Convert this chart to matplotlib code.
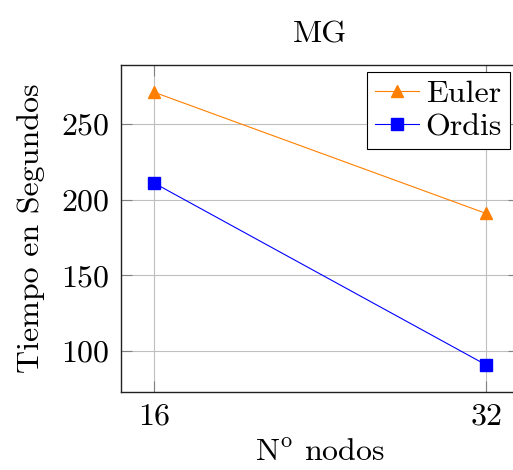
import matplotlib.pyplot as plt

plt.rcParams['font.family'] = ['cmr10', 'DejaVu Serif']
plt.rcParams['mathtext.fontset'] = 'cm'
plt.rcParams['axes.formatter.use_mathtext'] = True

nodos = [16, 32]
euler = [271, 191]
ordis = [211, 91]
yticks = [100, 150, 200, 250]

fs = 23

fig = plt.figure(figsize=(5.13, 4.70), dpi=100)
ax = fig.add_axes([121 / 513, 78 / 470, 398 / 513, 327 / 470])

ax.plot(nodos, euler, color='#ff8000', lw=0.8, marker='^', ms=9, label='Euler')
ax.plot(nodos, ordis, color='#0000ff', lw=0.8, marker='s', ms=8, label='Ordis')

ax.set_xlim(14.4, 33.6)
ax.set_ylim(73, 289)
ax.set_xticks(nodos)
ax.set_yticks(yticks)
ax.grid(True, color='#bfbfbf', lw=0.8)
ax.set_axisbelow(True)
ax.tick_params(direction='in', length=8, width=0.8, color='#808080',
               top=True, right=True, labelsize=fs, pad=8)
for s in ax.spines.values():
    s.set_linewidth(1.0)
    s.set_color('#222222')

ax.set_title('MG', fontsize=fs, pad=16)
ax.set_xlabel(r'N$^{\mathrm{o}}$ nodos', fontsize=fs, labelpad=6)
ax.set_ylabel('Tiempo en Segundos', fontsize=fs, labelpad=12)

leg = ax.legend(loc='upper right', bbox_to_anchor=(1 - 9 / 398, 1 - 7 / 327),
                fontsize=fs, fancybox=False, edgecolor='black', framealpha=1,
                borderpad=0.25, handlelength=1.4, handletextpad=0.2,
                labelspacing=0.15, borderaxespad=0)
leg.get_frame().set_linewidth(0.8)

fig.savefig('out.png', dpi=100)
